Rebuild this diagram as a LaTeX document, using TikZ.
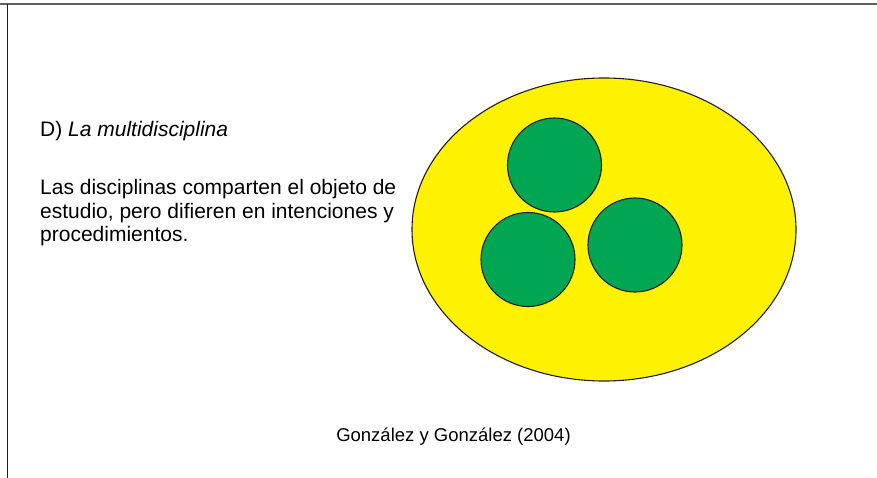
\documentclass[tikz,border=0pt]{standalone}
\usepackage{fontspec}
\setmainfont{Liberation Sans}
\usetikzlibrary{shapes.geometric,positioning}
\definecolor{amarillo}{HTML}{FFF200}
\definecolor{verde}{HTML}{00A651}
\definecolor{borde}{HTML}{231F20}
\tikzset{
  disciplina/.style={circle, draw=borde, line width=1.1pt, fill=verde, minimum size=94pt, inner sep=0pt},
  texto/.style={anchor=base west, inner sep=0pt, font=\fontsize{21}{23.5}\selectfont}
}
\begin{document}
\begin{tikzpicture}[x=1pt,y=-1pt]
\useasboundingbox (0,0) rectangle (877,478);
\fill[white] (0,0) rectangle (877,478);
\draw[black!62, line width=2pt] (0,4.5) -- (877,4.5);
\draw[borde, line width=1.6pt] (7.5,4) -- (7.5,478);
\node[ellipse, draw=borde, line width=1.1pt, fill=amarillo, minimum width=384pt, minimum height=303pt, inner sep=0pt] (objeto) at (604,229.5) {};
\node[disciplina] (d1) at (554.5,165) {};
\node[disciplina] (d2) at (528,259.5) {};
\node[disciplina] (d3) at (635,245) {};
\node[texto] (titulo) at (40,136.5) {D) \textit{La multidisciplina}};
% base = baseline of the last line
\node[texto, align=left] (parrafo) at (40,241.5) {Las disciplinas comparten el objeto de\\estudio, pero difieren en intenciones y\\procedimientos.};
\node[anchor=base, inner sep=0pt, font=\fontsize{18.5}{22}\selectfont] (fuente) at (453.5,441.5) {González y González (2004)};
\end{tikzpicture}
\end{document}
